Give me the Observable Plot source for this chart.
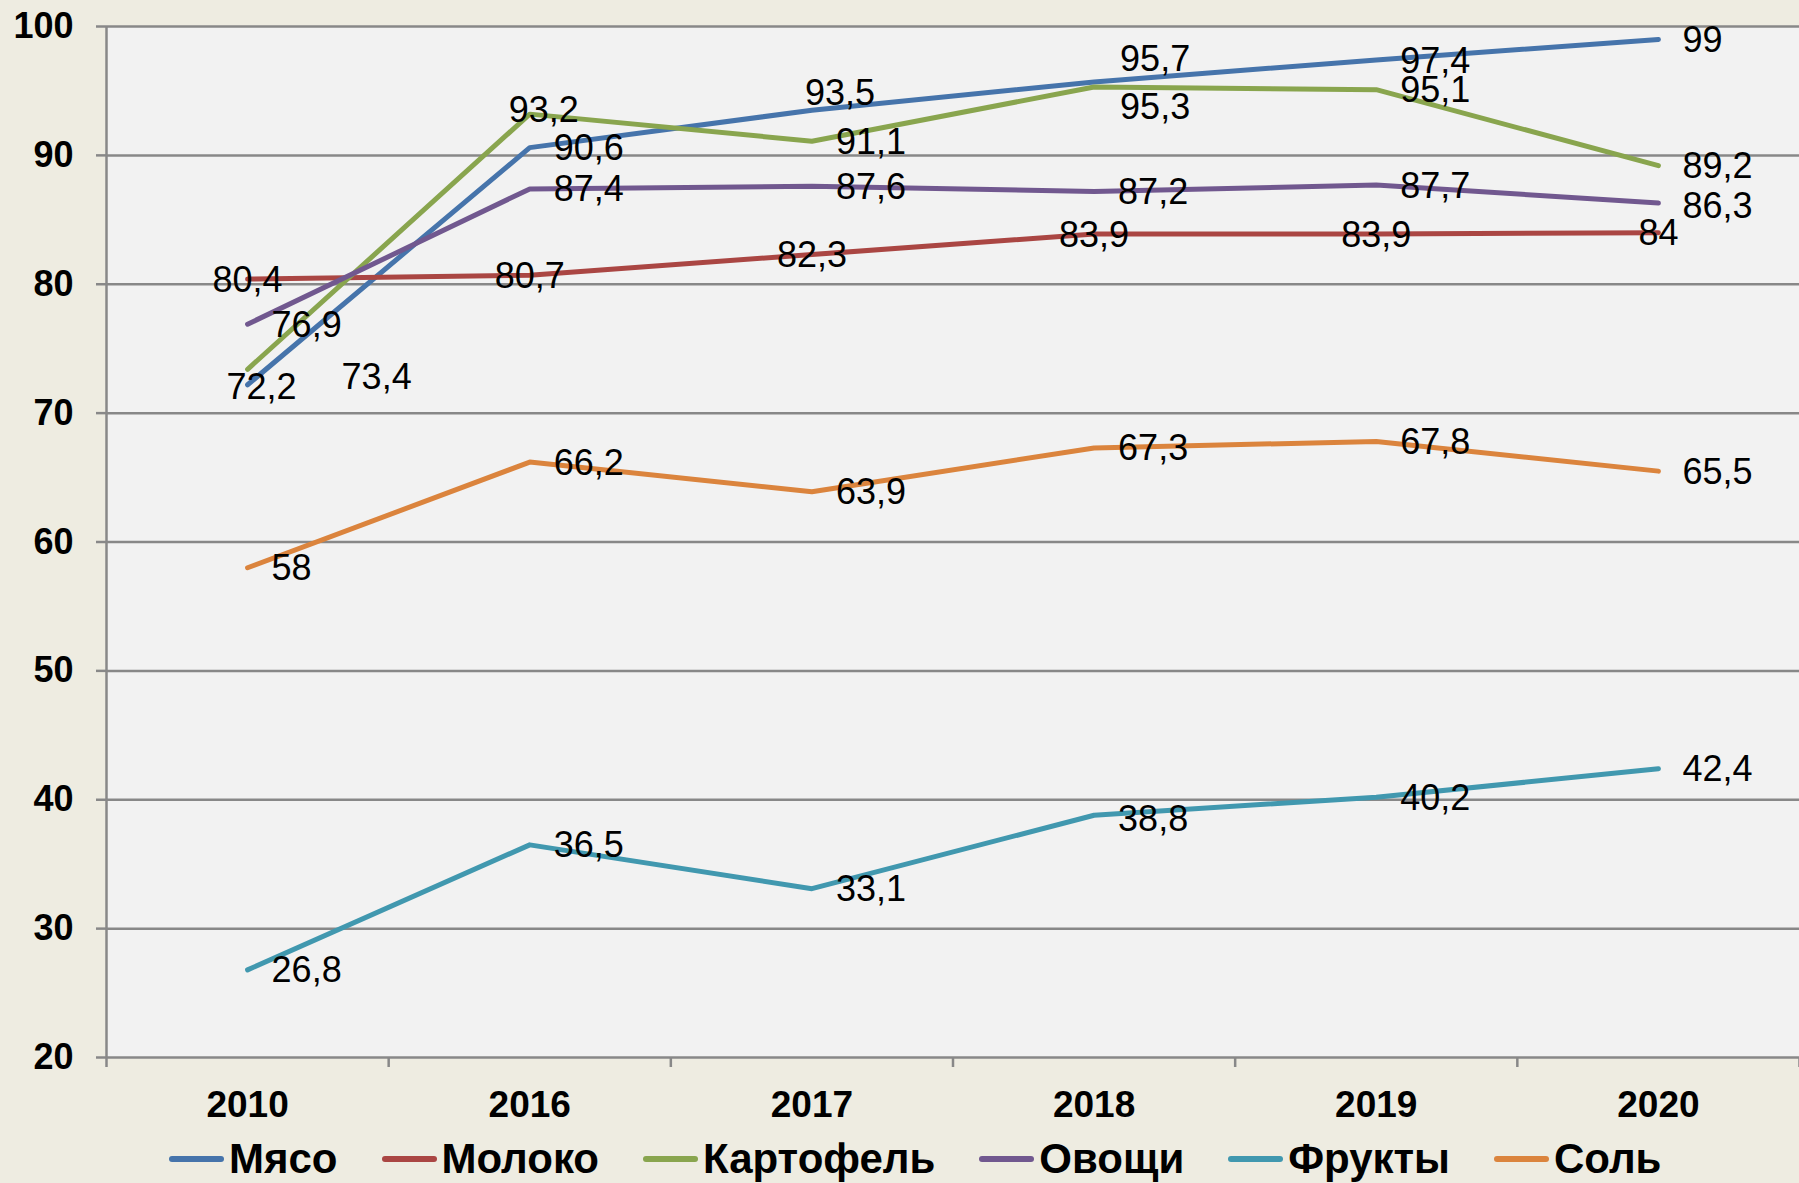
<!DOCTYPE html>
<html>
<head>
<meta charset="utf-8">
<script src="https://cdn.jsdelivr.net/npm/d3@7"></script>
<script src="https://cdn.jsdelivr.net/npm/@observablehq/plot@0.6"></script>
<style>
  html, body { margin: 0; padding: 0; background: #EEECE1; overflow: hidden; }
  body { width: 1799px; height: 1183px; font-family: "Liberation Sans", Arial, sans-serif; }
  #legend { display: flex; align-items: center; height: 49px; padding-top: 4px; padding-left: 169px; font-size: 42px; line-height: 1; font-weight: bold; color: #000; }
  .item { display: flex; align-items: center; margin-right: 44px; }
  .sw { width: 55px; height: 6px; border-radius: 3px; margin-right: 5px; }
</style>
</head>
<body>
<div id="chart"></div>
<div id="legend"></div>
<script>
// ---- data ----
const years = ["2010", "2016", "2017", "2018", "2019", "2020"];
const seriesNames = ["Мясо", "Молоко", "Картофель", "Овощи", "Фрукты", "Соль"];
const myaso    = [72.2, 90.6, 93.5, 95.7, 97.4, 99];
const moloko   = [80.4, 80.7, 82.3, 83.9, 83.9, 84];
const kartofel = [73.4, 93.2, 91.1, 95.3, 95.1, 89.2];
const ovoshchi = [76.9, 87.4, 87.6, 87.2, 87.7, 86.3];
const frukty   = [26.8, 36.5, 33.1, 38.8, 40.2, 42.4];
const sol      = [58, 66.2, 63.9, 67.3, 67.8, 65.5];
const yTicks = [20, 30, 40, 50, 60, 70, 80, 90, 100];

// ---- styling ----
const colors = ["#4674AB", "#AA4643", "#89A54E", "#71588F", "#4198AF", "#DB843D"];
const gridColor = "#888888";
const font = "'Liberation Sans', Arial, sans-serif";

// label placement (layout only)
const centerSeries = ["Молоко"];
const labelExceptions = [
  {series: "Мясо", year: "2010", anchor: "middle", dx: 14, dy: 3},
  {series: "Картофель", year: "2010", anchor: "start", dx: 94, dy: 8},
  {series: "Картофель", year: "2016", anchor: "start", dx: -21, dy: -4},
  {series: "Мясо", year: "2017", anchor: "start", dx: -7, dy: -17},
  {series: "Мясо", year: "2018", anchor: "start", dx: 26, dy: -22},
  {series: "Картофель", year: "2018", anchor: "start", dx: 26, dy: 20},
  {series: "Фрукты", year: "2018", anchor: "start", dx: 24, dy: 4},
  {series: "Овощи", year: "2020", anchor: "start", dx: 24, dy: 3}
];

const seriesValues = [myaso, moloko, kartofel, ovoshchi, frukty, sol];
const rows = [];
seriesNames.forEach((s, k) => {
  seriesValues[k].forEach((v, i) => rows.push({series: s, i, year: years[i], value: v}));
});
const fmt = v => String(v).replace(".", ",");
const isExc = d => labelExceptions.some(e => e.series === d.series && e.year === d.year);
const standardRows = rows.filter(d => !isExc(d) && !centerSeries.includes(d.series));
const centerRows = rows.filter(d => !isExc(d) && centerSeries.includes(d.series));

const labelStyle = {x: "i", y: "value", text: d => fmt(d.value), fontSize: 36, fill: "#000", fontFamily: font};

const marks = [
  Plot.frame({fill: "#F2F2F2", stroke: null}),
  Plot.gridY(yTicks, {stroke: gridColor, strokeOpacity: 1, strokeWidth: 2.5}),
  Plot.ruleX([-0.5], {stroke: gridColor, strokeWidth: 2.5}),
  Plot.axisY(yTicks, {tickSize: 10, tickPadding: 23, fontSize: 36, fontWeight: "bold", stroke: gridColor, strokeWidth: 2.5, fill: "#000", label: null, fontFamily: font}),
  Plot.axisX([-0.5, 0.5, 1.5, 2.5, 3.5, 4.5, 5.5], {tickSize: 10, tickFormat: () => "", stroke: gridColor, strokeWidth: 2.5, label: null}),
  Plot.axisX(d3.range(years.length), {tickSize: 0, tickPadding: 33, tickFormat: i => years[i], fontSize: 37, fontWeight: "bold", fill: "#000", label: null, fontFamily: font}),
  Plot.line(rows, {x: "i", y: "value", z: "series", stroke: "series", strokeWidth: 5, strokeLinecap: "round", strokeLinejoin: "round"}),
  Plot.text(standardRows, {...labelStyle, textAnchor: "start", dx: 24, dy: 1}),
  Plot.text(centerRows, {...labelStyle, textAnchor: "middle", dx: 0, dy: 1})
];
labelExceptions.forEach(e => {
  marks.push(Plot.text(rows.filter(d => d.series === e.series && d.year === e.year),
    {...labelStyle, textAnchor: e.anchor, dx: e.dx, dy: e.dy}));
});

const chart = Plot.plot({
  width: 1799,
  height: 1130,
  marginLeft: 106,
  marginRight: 0,
  marginTop: 26,
  marginBottom: 73,
  style: {background: "transparent", fontFamily: font, overflow: "visible"},
  x: {type: "linear", domain: [-0.5, years.length - 0.5], axis: null},
  y: {domain: [20, 100], axis: null},
  color: {domain: seriesNames, range: colors},
  marks
});
document.getElementById("chart").appendChild(chart);

// legend
const legend = document.getElementById("legend");
seriesNames.forEach((s, k) => {
  const it = document.createElement("div");
  it.className = "item";
  const sw = document.createElement("span");
  sw.className = "sw";
  sw.style.background = colors[k];
  const tx = document.createElement("span");
  tx.textContent = s;
  it.appendChild(sw);
  it.appendChild(tx);
  legend.appendChild(it);
});
</script>
</body>
</html>
